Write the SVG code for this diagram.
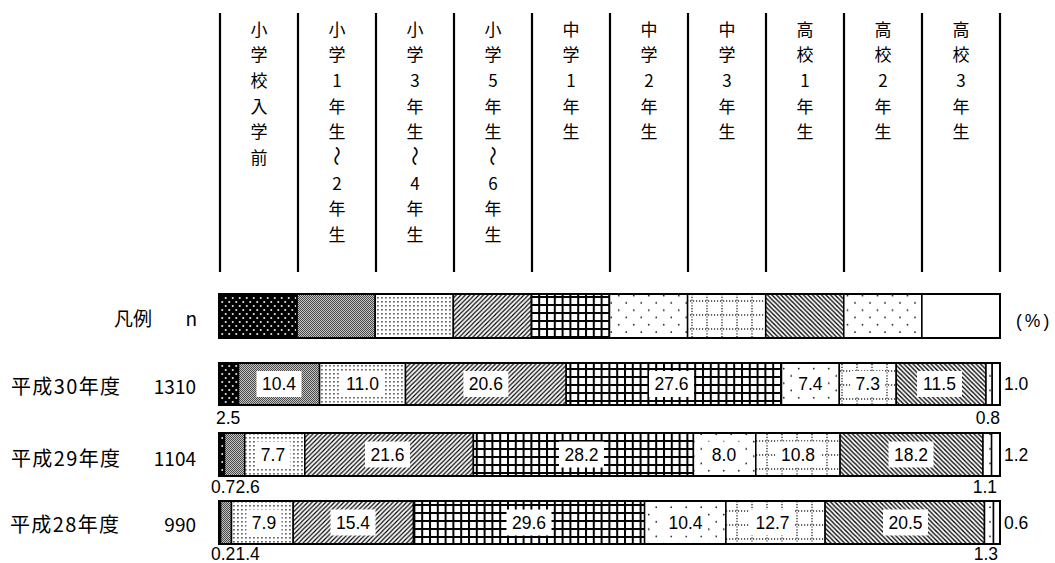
<svg xmlns="http://www.w3.org/2000/svg" width="1055" height="563" viewBox="0 0 1055 563">
<style>
.seg{stroke:#000;stroke-width:1.5}
.frame{fill:none;stroke:#000;stroke-width:2}
.lb{fill:#fff}
.val{font-family:"Liberation Sans",Arial,sans-serif;font-size:17.5px;fill:#000}
.c{text-anchor:middle}
.e{text-anchor:end}
.jp{font-family:"Noto Sans CJK JP","Liberation Sans",sans-serif;font-size:19px;fill:#000}
.yr{font-size:20px}
.hd{font-family:"Noto Sans CJK JP","Liberation Sans",sans-serif;font-size:17px;fill:#000;text-anchor:middle;dominant-baseline:central}
.wv{font-size:20px}
.vl{stroke:#000;stroke-width:2.2}
</style>
<defs>
<pattern id="p1" width="7" height="8" patternUnits="userSpaceOnUse">
<rect width="7" height="8" fill="#000"/>
<circle cx="1.75" cy="2" r="1.05" fill="#e6e6e6"/>
<circle cx="5.25" cy="6" r="1.05" fill="#e6e6e6"/>
</pattern>
<pattern id="p2" width="2" height="2" patternUnits="userSpaceOnUse">
<rect width="2" height="2" fill="#c4c4c4"/>
<rect width="1" height="1" fill="#4a4a4a"/>
<rect x="1" y="1" width="1" height="1" fill="#4a4a4a"/>
</pattern>
<pattern id="p3" width="4" height="4" patternUnits="userSpaceOnUse">
<rect width="4" height="4" fill="#fff"/>
<rect x="1" y="1" width="1.8" height="1.6" fill="#6a6a6a"/>
</pattern>
<pattern id="p4" width="4.5" height="4.5" patternUnits="userSpaceOnUse">
<rect width="4.5" height="4.5" fill="#fff"/>
<path d="M0,4.5 L4.5,0 M-1,1 L1,-1 M3.5,5.5 L5.5,3.5" stroke="#000" stroke-width="1.2"/>
</pattern>
<pattern id="p5" width="7.8" height="8" patternUnits="userSpaceOnUse">
<rect width="7.8" height="8" fill="#fff"/>
<path d="M0,1 H7.8 M1,0 V8" stroke="#000" stroke-width="2"/>
</pattern>
<pattern id="p6" width="15" height="14.6" patternUnits="userSpaceOnUse">
<rect width="15" height="14.6" fill="#fff"/>
<circle cx="3.75" cy="3.6" r="0.9" fill="#222"/>
<circle cx="11.25" cy="10.9" r="0.9" fill="#222"/>
</pattern>
<pattern id="p7" width="15" height="14" patternUnits="userSpaceOnUse">
<rect width="15" height="14" fill="#fff"/>
<path d="M2,0 V14" stroke="#333" stroke-width="1.4" stroke-dasharray="1.2 1.6"/>
<path d="M0,7 H15" stroke="#333" stroke-width="1.4" stroke-dasharray="1.2 1.8"/>
</pattern>
<pattern id="p8" width="4.5" height="4.5" patternUnits="userSpaceOnUse">
<rect width="4.5" height="4.5" fill="#fff"/>
<path d="M0,0 L4.5,4.5 M-1,3.5 L1,5.5 M3.5,-1 L5.5,1" stroke="#000" stroke-width="1.3"/>
</pattern>
<pattern id="p9" width="15" height="14.6" patternUnits="userSpaceOnUse">
<rect width="15" height="14.6" fill="#fff"/>
<circle cx="7.5" cy="3.6" r="0.9" fill="#222"/>
<circle cx="0" cy="10.9" r="0.9" fill="#222"/>
<circle cx="15" cy="10.9" r="0.9" fill="#222"/>
</pattern>
</defs>
<rect width="1055" height="563" fill="#fff"/>

<g id="header-lines">
<line class="vl" x1="220" y1="13" x2="220" y2="272"/>
<line class="vl" x1="298" y1="13" x2="298" y2="272"/>
<line class="vl" x1="376" y1="13" x2="376" y2="272"/>
<line class="vl" x1="454" y1="13" x2="454" y2="272"/>
<line class="vl" x1="532" y1="13" x2="532" y2="272"/>
<line class="vl" x1="610" y1="13" x2="610" y2="272"/>
<line class="vl" x1="688" y1="13" x2="688" y2="272"/>
<line class="vl" x1="766" y1="13" x2="766" y2="272"/>
<line class="vl" x1="844" y1="13" x2="844" y2="272"/>
<line class="vl" x1="922" y1="13" x2="922" y2="272"/>
<line class="vl" x1="1000" y1="13" x2="1000" y2="272"/>
</g>

<g id="header-labels">
<g id="h1"><text class="hd"><tspan x="259" y="27.5">小</tspan><tspan x="259" y="53.2">学</tspan><tspan x="259" y="78.9">校</tspan><tspan x="259" y="104.6">入</tspan><tspan x="259" y="130.3">学</tspan><tspan x="259" y="156">前</tspan></text></g>
<g id="h2"><text class="hd"><tspan x="337" y="27.5">小</tspan><tspan x="337" y="53.2">学</tspan><tspan x="337" y="78.9">1</tspan><tspan x="337" y="104.6">年</tspan><tspan x="337" y="130.3">生</tspan></text><text class="hd wv" transform="rotate(90 337 156)" x="337" y="156">〜</text><text class="hd"><tspan x="337" y="181.7">2</tspan><tspan x="337" y="207.4">年</tspan><tspan x="337" y="233.1">生</tspan></text></g>
<g id="h3"><text class="hd"><tspan x="415" y="27.5">小</tspan><tspan x="415" y="53.2">学</tspan><tspan x="415" y="78.9">3</tspan><tspan x="415" y="104.6">年</tspan><tspan x="415" y="130.3">生</tspan></text><text class="hd wv" transform="rotate(90 415 156)" x="415" y="156">〜</text><text class="hd"><tspan x="415" y="181.7">4</tspan><tspan x="415" y="207.4">年</tspan><tspan x="415" y="233.1">生</tspan></text></g>
<g id="h4"><text class="hd"><tspan x="493" y="27.5">小</tspan><tspan x="493" y="53.2">学</tspan><tspan x="493" y="78.9">5</tspan><tspan x="493" y="104.6">年</tspan><tspan x="493" y="130.3">生</tspan></text><text class="hd wv" transform="rotate(90 493 156)" x="493" y="156">〜</text><text class="hd"><tspan x="493" y="181.7">6</tspan><tspan x="493" y="207.4">年</tspan><tspan x="493" y="233.1">生</tspan></text></g>
<g id="h5"><text class="hd"><tspan x="571" y="27.5">中</tspan><tspan x="571" y="53.2">学</tspan><tspan x="571" y="78.9">1</tspan><tspan x="571" y="104.6">年</tspan><tspan x="571" y="130.3">生</tspan></text></g>
<g id="h6"><text class="hd"><tspan x="649" y="27.5">中</tspan><tspan x="649" y="53.2">学</tspan><tspan x="649" y="78.9">2</tspan><tspan x="649" y="104.6">年</tspan><tspan x="649" y="130.3">生</tspan></text></g>
<g id="h7"><text class="hd"><tspan x="727" y="27.5">中</tspan><tspan x="727" y="53.2">学</tspan><tspan x="727" y="78.9">3</tspan><tspan x="727" y="104.6">年</tspan><tspan x="727" y="130.3">生</tspan></text></g>
<g id="h8"><text class="hd"><tspan x="805" y="27.5">高</tspan><tspan x="805" y="53.2">校</tspan><tspan x="805" y="78.9">1</tspan><tspan x="805" y="104.6">年</tspan><tspan x="805" y="130.3">生</tspan></text></g>
<g id="h9"><text class="hd"><tspan x="883" y="27.5">高</tspan><tspan x="883" y="53.2">校</tspan><tspan x="883" y="78.9">2</tspan><tspan x="883" y="104.6">年</tspan><tspan x="883" y="130.3">生</tspan></text></g>
<g id="h10"><text class="hd"><tspan x="961" y="27.5">高</tspan><tspan x="961" y="53.2">校</tspan><tspan x="961" y="78.9">3</tspan><tspan x="961" y="104.6">年</tspan><tspan x="961" y="130.3">生</tspan></text></g>
</g>

<g id="legend">
<text class="jp" x="114" y="326" font-size="20">凡例</text>
<text class="jp e" x="197" y="326">n</text>
<rect class="seg" x="219" y="294" width="78.1" height="44" fill="url(#p1)"/>
<rect class="seg" x="297.1" y="294" width="78.1" height="44" fill="url(#p2)"/>
<rect class="seg" x="375.2" y="294" width="78.1" height="44" fill="url(#p3)"/>
<rect class="seg" x="453.3" y="294" width="78.1" height="44" fill="url(#p4)"/>
<rect class="seg" x="531.4" y="294" width="78.1" height="44" fill="url(#p5)"/>
<rect class="seg" x="609.5" y="294" width="78.1" height="44" fill="url(#p6)"/>
<rect class="seg" x="687.6" y="294" width="78.1" height="44" fill="url(#p7)"/>
<rect class="seg" x="765.7" y="294" width="78.1" height="44" fill="url(#p8)"/>
<rect class="seg" x="843.8" y="294" width="78.1" height="44" fill="url(#p9)"/>
<rect class="seg" x="921.9" y="294" width="78.1" height="44" fill="#fff"/>
<rect class="frame" x="219" y="294" width="781" height="44"/>
<text class="val" x="1016" y="327" font-size="16" letter-spacing="3">(%)</text>
</g>

<g id="row-h30">
<text class="jp yr" x="11" y="394" textLength="109" lengthAdjust="spacing">平成30年度</text>
<text class="jp e" x="196" y="394">1310</text>
<rect class="seg" x="219" y="363" width="19.5" height="42" fill="url(#p1)"/>
<rect class="seg" x="238.5" y="363" width="81.1" height="42" fill="url(#p2)"/>
<rect class="seg" x="319.6" y="363" width="85.9" height="42" fill="url(#p3)"/>
<rect class="seg" x="405.5" y="363" width="160.7" height="42" fill="url(#p4)"/>
<rect class="seg" x="566.2" y="363" width="215.3" height="42" fill="url(#p5)"/>
<rect class="seg" x="781.5" y="363" width="57.8" height="42" fill="url(#p6)"/>
<rect class="seg" x="839.3" y="363" width="56.9" height="42" fill="url(#p7)"/>
<rect class="seg" x="896.2" y="363" width="89.8" height="42" fill="url(#p8)"/>
<rect class="seg" x="986" y="363" width="6.2" height="42" fill="url(#p9)"/>
<rect class="seg" x="992.2" y="363" width="7.8" height="42" fill="#fff"/>
<rect class="frame" x="219" y="363" width="781" height="42"/>
<rect class="lb" x="256.5" y="371" width="45" height="26"/><text class="val c" x="279" y="390.3">10.4</text>
<rect class="lb" x="340" y="371" width="45" height="26"/><text class="val c" x="362.5" y="390.3">11.0</text>
<rect class="lb" x="463.4" y="371" width="45" height="26"/><text class="val c" x="485.9" y="390.3">20.6</text>
<rect class="lb" x="649" y="371" width="45" height="26"/><text class="val c" x="671.5" y="390.3">27.6</text>
<rect class="lb" x="792.9" y="371" width="35" height="26"/><text class="val c" x="810.4" y="390.3">7.4</text>
<rect class="lb" x="850.2" y="371" width="35" height="26"/><text class="val c" x="867.7" y="390.3">7.3</text>
<rect class="lb" x="917" y="371" width="45" height="26"/><text class="val c" x="939.5" y="390.3">11.5</text>
<text class="val" x="216" y="424">2.5</text>
<text class="val e" x="1000" y="424">0.8</text>
<text class="val" x="1004" y="390.3">1.0</text>
</g>

<g id="row-h29">
<text class="jp yr" x="11" y="465.5" textLength="109" lengthAdjust="spacing">平成29年度</text>
<text class="jp e" x="196" y="465.5">1104</text>
<rect class="seg" x="219" y="433" width="5.5" height="43" fill="url(#p1)"/>
<rect class="seg" x="224.5" y="433" width="20.2" height="43" fill="url(#p2)"/>
<rect class="seg" x="244.7" y="433" width="60.1" height="43" fill="url(#p3)"/>
<rect class="seg" x="304.8" y="433" width="168.6" height="43" fill="url(#p4)"/>
<rect class="seg" x="473.4" y="433" width="220" height="43" fill="url(#p5)"/>
<rect class="seg" x="693.4" y="433" width="62.4" height="43" fill="url(#p6)"/>
<rect class="seg" x="755.8" y="433" width="84.3" height="43" fill="url(#p7)"/>
<rect class="seg" x="840.1" y="433" width="142.9" height="43" fill="url(#p8)"/>
<rect class="seg" x="983" y="433" width="8.6" height="43" fill="url(#p9)"/>
<rect class="seg" x="991.6" y="433" width="8.4" height="43" fill="#fff"/>
<rect class="frame" x="219" y="433" width="781" height="43"/>
<rect class="lb" x="255.5" y="441.5" width="35" height="26"/><text class="val c" x="273" y="460.8">7.7</text>
<rect class="lb" x="365" y="441.5" width="45" height="26"/><text class="val c" x="387.5" y="460.8">21.6</text>
<rect class="lb" x="559" y="441.5" width="45" height="26"/><text class="val c" x="581.5" y="460.8">28.2</text>
<rect class="lb" x="706.5" y="441.5" width="35" height="26"/><text class="val c" x="724" y="460.8">8.0</text>
<rect class="lb" x="775.5" y="441.5" width="45" height="26"/><text class="val c" x="798" y="460.8">10.8</text>
<rect class="lb" x="888.5" y="441.5" width="45" height="26"/><text class="val c" x="911" y="460.8">18.2</text>
<text class="val" x="211" y="493">0.7</text>
<text class="val" x="235.5" y="493">2.6</text>
<text class="val e" x="997" y="493">1.1</text>
<text class="val" x="1004" y="460.8">1.2</text>
</g>

<g id="row-h28">
<text class="jp yr" x="10" y="532" textLength="109" lengthAdjust="spacing">平成28年度</text>
<text class="jp e" x="196" y="532">990</text>
<rect class="seg" x="219" y="501" width="1.6" height="43" fill="url(#p1)"/>
<rect class="seg" x="220.6" y="501" width="10.9" height="43" fill="url(#p2)"/>
<rect class="seg" x="231.5" y="501" width="61.7" height="43" fill="url(#p3)"/>
<rect class="seg" x="293.2" y="501" width="120.3" height="43" fill="url(#p4)"/>
<rect class="seg" x="413.5" y="501" width="231.1" height="43" fill="url(#p5)"/>
<rect class="seg" x="644.6" y="501" width="81.3" height="43" fill="url(#p6)"/>
<rect class="seg" x="725.9" y="501" width="99.2" height="43" fill="url(#p7)"/>
<rect class="seg" x="825.1" y="501" width="159.4" height="43" fill="url(#p8)"/>
<rect class="seg" x="984.5" y="501" width="9" height="43" fill="url(#p9)"/>
<rect class="seg" x="993.5" y="501" width="6.5" height="43" fill="#fff"/>
<rect class="frame" x="219" y="501" width="781" height="43"/>
<rect class="lb" x="246.5" y="509.5" width="35" height="26"/><text class="val c" x="264" y="528.8">7.9</text>
<rect class="lb" x="330.5" y="509.5" width="45" height="26"/><text class="val c" x="353" y="528.8">15.4</text>
<rect class="lb" x="506.5" y="509.5" width="45" height="26"/><text class="val c" x="529" y="528.8">29.6</text>
<rect class="lb" x="663" y="509.5" width="45" height="26"/><text class="val c" x="685.5" y="528.8">10.4</text>
<rect class="lb" x="750" y="509.5" width="45" height="26"/><text class="val c" x="772.5" y="528.8">12.7</text>
<rect class="lb" x="883" y="509.5" width="45" height="26"/><text class="val c" x="905.5" y="528.8">20.5</text>
<text class="val" x="211" y="560">0.2</text>
<text class="val" x="235.5" y="560">1.4</text>
<text class="val e" x="998" y="560">1.3</text>
<text class="val" x="1004" y="528.8">0.6</text>
</g>
</svg>
